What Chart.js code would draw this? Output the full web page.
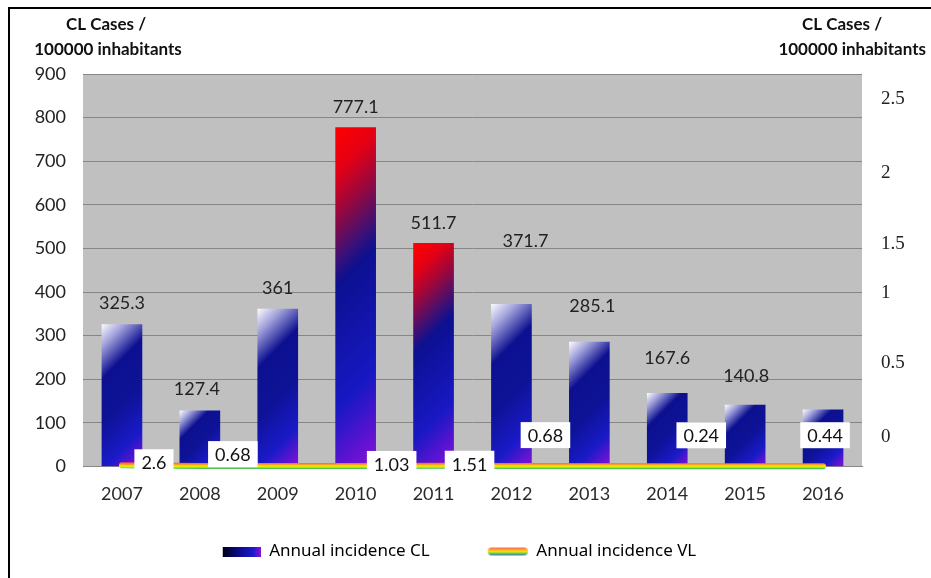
<!DOCTYPE html>
<html>
<head>
<meta charset="utf-8">
<script src="https://cdn.jsdelivr.net/npm/chart.js@4.4.0/dist/chart.umd.min.js"></script>
<style>
  html, body { margin: 0; padding: 0; background: #fff; }
  canvas { display: block; }
</style>
</head>
<body>
<canvas id="leishChart" width="931" height="578"></canvas>
<script>
// values
const years = ['2007', '2008', '2009', '2010', '2011', '2012', '2013', '2014', '2015', '2016'];
const clIncidence = [325.3, 127.4, 361, 777.1, 511.7, 371.7, 285.1, 167.6, 140.8, 130];
const clLabels = ['325.3', '127.4', '361', '777.1', '511.7', '371.7', '285.1', '167.6', '140.8', ''];
const vlIncidence = [2.6, 0.68, null, 1.03, 1.51, 0.68, null, 0.24, null, 0.44];
const redYears = ['2010', '2011'];
const rightTickLabels = ['0', '0.5', '1', '1.5', '2', '2.5'];

const numFont = 'Lato';

// gradient fill for each bar, laid out at 45 degrees over the bar
function barFill(context) {
    const chart = context.chart;
    const { x, y } = chart.scales;
    if (context.type !== 'data' || !x || !y) return '#10108c';
    const i = context.dataIndex;
    const cx = x.getPixelForValue(i);
    const left = cx - 20;
    const top = y.getPixelForValue(clIncidence[i]);
    const bottom = y.getPixelForValue(0);
    const d = (40 + bottom - top) / 2;
    if (![left, top, d].every(Number.isFinite) || d <= 0) return '#10108c';
    const g = chart.ctx.createLinearGradient(left, top, left + d, top + d);
    if (redYears.includes(years[i])) {
        g.addColorStop(0, '#ff0000');
        g.addColorStop(0.12, '#e40014');
        g.addColorStop(0.24, '#940840');
        g.addColorStop(0.34, '#461070');
        g.addColorStop(0.42, '#0c1090');
        g.addColorStop(0.75, '#1818c4');
        g.addColorStop(1, '#8a10d8');
    } else {
        g.addColorStop(0, '#fafaff');
        g.addColorStop(0.12, '#a4a4dc');
        g.addColorStop(0.3, '#0c1090');
        g.addColorStop(0.55, '#0e1296');
        g.addColorStop(0.8, '#1a1ac8');
        g.addColorStop(1, '#8a10d8');
    }
    return g;
}

// rainbow stroke for the VL line (the line lies flat on the baseline)
function vlStroke(context) {
    const chart = context.chart;
    const y = chart.scales.y;
    if (!y) return '#ff8000';
    const y0 = y.getPixelForValue(0);
    if (!Number.isFinite(y0)) return '#ff8000';
    const g = chart.ctx.createLinearGradient(0, y0 - 4, 0, y0 + 2);
    g.addColorStop(0, '#ff4a5a');
    g.addColorStop(0.3, '#ff8a30');
    g.addColorStop(0.6, '#ffee00');
    g.addColorStop(0.85, '#a8e800');
    g.addColorStop(1, '#50c850');
    return g;
}

// legend swatches (drawn at the right end of a 77px wide box)
const swW = 77;
const clSwatch = document.createElement('canvas');
clSwatch.width = swW; clSwatch.height = 10;
(() => {
    const c = clSwatch.getContext('2d');
    const g = c.createLinearGradient(swW - 38, 0, swW, 0);
    g.addColorStop(0, '#000018');
    g.addColorStop(0.4, '#0a0a84');
    g.addColorStop(0.8, '#1a1ad0');
    g.addColorStop(1, '#8a10d8');
    c.fillStyle = g;
    c.fillRect(swW - 38, 0, 38, 10);
})();

const vlSwatch = document.createElement('canvas');
vlSwatch.width = swW; vlSwatch.height = 10;
(() => {
    const c = vlSwatch.getContext('2d');
    const g = c.createLinearGradient(0, 1, 0, 9);
    g.addColorStop(0, '#ff5a6a');
    g.addColorStop(0.25, '#ff9a30');
    g.addColorStop(0.5, '#ffee00');
    g.addColorStop(0.72, '#70d040');
    g.addColorStop(1, '#3070e0');
    c.strokeStyle = g;
    c.lineWidth = 8;
    c.lineCap = 'round';
    c.beginPath();
    c.moveTo(swW - 36, 5);
    c.lineTo(swW - 4, 5);
    c.stroke();
})();

const clLabelLift = [21, 22, 21, 20, 20, 63, 36, 35, 29, 0];
const clLabelShift = [0, -3, 0, 0, 0, 14, 3, 0, 1, 0];
const vlBoxShift = [[32, -3], [33, -12], null, [36, -2], [36, -2], [34, -31], null, [34, -31], null, [2, -31]];

const decorPlugin = {
    id: 'decor',
    beforeDraw(chart) {
        const { ctx, chartArea: a } = chart;
        ctx.save();
        ctx.fillStyle = '#c0c0c0';
        ctx.fillRect(a.left, a.top, a.right - a.left, a.bottom - a.top);
        ctx.restore();
    },
    afterDatasetsDraw(chart) {
        const ctx = chart.ctx;
        ctx.save();
        // CL value labels above bars
        const bars = chart.getDatasetMeta(0).data;
        ctx.font = '18px ' + numFont;
        ctx.fillStyle = '#222';
        ctx.textAlign = 'center';
        ctx.textBaseline = 'middle';
        bars.forEach((bar, i) => {
            if (!clLabels[i]) return;
            ctx.fillText(clLabels[i], bar.x + clLabelShift[i], bar.y - clLabelLift[i]);
        });
        // VL value boxes
        const pts = chart.getDatasetMeta(1).data;
        pts.forEach((p, i) => {
            if (vlIncidence[i] === null || !vlBoxShift[i]) return;
            const txt = String(vlIncidence[i]);
            const w = ctx.measureText(txt).width + 14;
            const cx = p.x + vlBoxShift[i][0];
            const cy = p.y + vlBoxShift[i][1];
            ctx.fillStyle = '#fff';
            ctx.fillRect(cx - w / 2, cy - 13, w, 26);
            ctx.fillStyle = '#111';
            ctx.fillText(txt, cx, cy + 1);
        });
        ctx.restore();
    },
    afterDraw(chart) {
        const ctx = chart.ctx;
        ctx.save();
        ctx.fillStyle = '#000';
        ctx.fillRect(8, 7, 2, 571);
        ctx.fillRect(8, 7, 923, 2);
        ctx.fillStyle = '#111';
        ctx.font = 'bold 17px Lato';
        ctx.textBaseline = 'middle';
        ctx.textAlign = 'center';
        ctx.fillText('CL Cases /', 106, 25);
        ctx.fillText('100000 inhabitants', 108, 50);
        ctx.fillText('CL Cases /', 842, 25);
        ctx.textAlign = 'right';
        ctx.fillText('100000 inhabitants', 926, 50);
        ctx.restore();
    }
};

document.addEventListener('DOMContentLoaded', () => {
    const ctx = document.getElementById('leishChart').getContext('2d');

    new Chart(ctx, {
        type: 'bar',
        data: {
            labels: years,
            datasets: [
                {
                    type: 'bar',
                    label: 'Annual incidence CL',
                    data: clIncidence,
                    backgroundColor: barFill,
                    borderWidth: 0,
                    barThickness: 40,
                    yAxisID: 'y',
                    order: 2
                },
                {
                    type: 'line',
                    label: 'Annual incidence VL',
                    data: vlIncidence,
                    borderColor: vlStroke,
                    borderWidth: 6,
                    borderCapStyle: 'round',
                    pointRadius: 0,
                    spanGaps: true,
                    tension: 0,
                    clip: false,
                    yAxisID: 'y',
                    order: 1
                }
            ]
        },
        options: {
            responsive: false,
            animation: false,
            devicePixelRatio: 1,
            layout: { padding: { top: 74, right: 0, bottom: 8, left: 0 } },
            plugins: {
                tooltip: { enabled: false },
                title: { display: false },
                legend: {
                    position: 'bottom',
                    labels: {
                        usePointStyle: true,
                        pointStyleWidth: swW,
                        padding: 21,
                        color: '#111',
                        font: { family: 'Noto Sans', size: 17 },
                        // trailing em spaces pull the centred row to the left like the original
                        generateLabels: () => [
                            { text: 'Annual incidence CL', pointStyle: clSwatch, fillStyle: 'rgba(0,0,0,0)', strokeStyle: 'rgba(0,0,0,0)', lineWidth: 0, hidden: false, datasetIndex: 0 },
                            { text: 'Annual incidence VL\u2003\u2003\u2003', pointStyle: vlSwatch, fillStyle: 'rgba(0,0,0,0)', strokeStyle: 'rgba(0,0,0,0)', lineWidth: 0, hidden: false, datasetIndex: 1 }
                        ]
                    }
                }
            },
            scales: {
                x: {
                    grid: { display: false, drawTicks: false },
                    border: { color: '#888' },
                    ticks: { padding: 17, color: '#2a2a2a', font: { family: numFont, size: 18 } }
                },
                y: {
                    min: 0,
                    max: 900,
                    grid: { color: '#868686', drawTicks: false },
                    border: { display: false },
                    ticks: { stepSize: 100, padding: 17, color: '#222', font: { family: numFont, size: 18 } },
                    afterFit: s => { s.width = 83; }
                },
                y2: {
                    position: 'right',
                    min: 0,
                    max: 900,
                    grid: { display: false, drawTicks: false },
                    border: { display: false },
                    afterBuildTicks: s => {
                        s.ticks = [67, 236, 397, 510, 673, 843].map(v => ({ value: v }));
                    },
                    ticks: {
                        padding: 19,
                        color: '#222',
                        font: { family: 'Liberation Serif', size: 19 },
                        callback: (v, i) => rightTickLabels[i]
                    },
                    afterFit: s => { s.width = 69; }
                }
            }
        },
        plugins: [decorPlugin]
    });
});
</script>
</body>
</html>
